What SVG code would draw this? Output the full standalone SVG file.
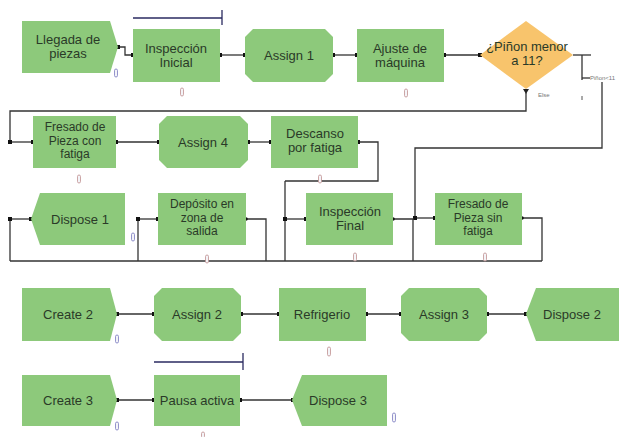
<svg xmlns="http://www.w3.org/2000/svg" width="619" height="437" viewBox="0 0 619 437">
<defs>
<style>
.n{fill:#8dc97b;}
.d{fill:#f8c46c;}
.t{font-family:"Liberation Sans",Arial,sans-serif;font-size:13px;fill:#2a3a28;text-anchor:middle;}
.t3{font-size:12px;}
.s{font-family:"Liberation Sans",Arial,sans-serif;font-size:6px;fill:#777;}
.c{fill:none;stroke:#333;stroke-width:1.3;marker-start:url(#dot);marker-end:url(#dot);}
.w{fill:none;stroke:#333;stroke-width:1.3;}
.m{fill:#f4f4f8;stroke-width:0.8;}
.mb{stroke:#7a7ac0;}
.mp{stroke:#c09090;}
</style>
<marker id="dot" viewBox="0 0 4 4" refX="2" refY="2" markerWidth="4" markerHeight="4" markerUnits="userSpaceOnUse"><rect width="4" height="4" fill="#111"/></marker>
</defs>
<rect width="619" height="437" fill="#fff"/>

<g id="connectors">
<polyline class="c" points="118,47 125,47 125,55 133,55"/>
<line class="c" x1="220" y1="55" x2="245" y2="55"/>
<line class="c" x1="333" y1="55" x2="357" y2="55"/>
<line class="c" x1="444" y1="55" x2="480" y2="55"/>
<polyline class="w" points="573,55 591,55"/>
<polyline class="w" points="582,55 582,80"/>
<line class="w" x1="582" y1="78" x2="590" y2="78"/>
<text class="s" x="590" y="80">Piñon&lt;11</text>
<line x1="582" y1="96" x2="582" y2="100" stroke="#555" stroke-width="1"/>
<polyline class="w" points="602,82 602,148 415,148 415,218"/>
<line class="c" x1="415" y1="218" x2="435" y2="218"/>
<polygon points="523,89 529,89 526,94" fill="#222"/>
<text class="s" x="538" y="97">Else</text>
<polyline class="w" points="526,92 526,111 10,111 10,142"/>
<line class="c" x1="10" y1="142" x2="33" y2="142"/>
<line class="c" x1="116" y1="142" x2="159" y2="142"/>
<line class="c" x1="248" y1="142" x2="271" y2="142"/>
<polyline class="c" points="358,142 378,142 378,181 285,181" style="marker-end:none"/>
<polyline class="w" points="285,181 285,261"/>
<line class="c" x1="285" y1="219" x2="306" y2="219"/>
<polyline class="w" points="393,219 413,219 413,261"/>
<circle cx="393" cy="219" r="1.8" fill="#111"/>
<polyline class="w" points="522,218 542,218 542,261"/>
<circle cx="522" cy="218" r="1.8" fill="#111"/>
<line class="w" x1="10" y1="261" x2="542" y2="261"/>
<polyline class="w" points="10,261 10,219"/>
<line class="c" x1="10" y1="219" x2="31" y2="219"/>
<polyline class="w" points="138,261 138,219"/>
<line class="c" x1="138" y1="219" x2="158" y2="219"/>
<polyline class="w" points="246,219 266,219 266,261"/>
<circle cx="246" cy="219" r="1.8" fill="#111"/>
<line class="c" x1="117" y1="314" x2="154" y2="314"/>
<line class="c" x1="241" y1="314" x2="279" y2="314"/>
<line class="c" x1="366" y1="314" x2="401" y2="314"/>
<line class="c" x1="487" y1="314" x2="526" y2="314"/>
<line class="c" x1="117" y1="400" x2="154" y2="400"/>
<line class="c" x1="240" y1="400" x2="293" y2="400"/>
<g stroke="#2a2a60" stroke-width="1.3">
<line x1="133" y1="18" x2="222" y2="18"/>
<line x1="222" y1="10" x2="222" y2="25"/>
<line x1="154" y1="362" x2="243" y2="362"/>
<line x1="243" y1="353" x2="243" y2="370"/>
</g>
</g>

<g id="llegada">
<polygon class="n" points="22,21 110,21 118,47 110,73 22,73"/>
<text class="t" x="68" y="44">Llegada de</text>
<text class="t" x="68" y="58">piezas</text>
<rect class="m mb" x="114.5" y="69" width="3" height="8" rx="1.5"/>
</g>
<g id="inspeccion-inicial">
<rect class="n" x="133" y="29" width="87" height="53"/>
<text class="t" x="176" y="53">Inspección</text>
<text class="t" x="176" y="67">Inicial</text>
<rect class="m mp" x="180.5" y="88" width="3" height="8" rx="1.5"/>
</g>
<g id="assign1">
<polygon class="n" points="253,29 325,29 333,37 333,74 325,82 253,82 245,74 245,37"/>
<text class="t" x="289" y="60">Assign 1</text>
</g>
<g id="ajuste">
<rect class="n" x="357" y="29" width="87" height="53"/>
<text class="t" x="400" y="53">Ajuste de</text>
<text class="t" x="400" y="67">máquina</text>
<rect class="m mp" x="404.5" y="89" width="3" height="8" rx="1.5"/>
</g>
<g id="decision">
<polygon class="d" points="526,21 573,55 526,89 480,55"/>
<text class="t" x="527" y="51">¿Piñon menor</text>
<text class="t" x="527" y="65">a 11?</text>
</g>
<g id="fresado-con">
<rect class="n" x="33" y="116" width="83" height="52"/>
<text class="t t3" x="75" y="131">Fresado de</text>
<text class="t t3" x="75" y="144.5">Pieza con</text>
<text class="t t3" x="75" y="158">fatiga</text>
<rect class="m mp" x="77.5" y="175" width="3" height="8" rx="1.5"/>
</g>
<g id="assign4">
<polygon class="n" points="167,116 240,116 248,124 248,160 240,168 167,168 159,160 159,124"/>
<text class="t" x="203" y="147">Assign 4</text>
</g>
<g id="descanso">
<rect class="n" x="271" y="116" width="87" height="52"/>
<text class="t" x="315" y="138">Descanso</text>
<text class="t" x="315" y="152">por fatiga</text>
<rect class="m mp" x="318.5" y="175" width="3" height="8" rx="1.5"/>
</g>
<g id="dispose1">
<polygon class="n" points="31,219 40,193 125,193 125,245 40,245"/>
<text class="t" x="80" y="224">Dispose 1</text>
<rect class="m mb" x="131.5" y="233" width="3" height="8" rx="1.5"/>
</g>
<g id="deposito">
<rect class="n" x="158" y="193" width="88" height="52"/>
<text class="t t3" x="202" y="208">Depósito en</text>
<text class="t t3" x="202" y="221.5">zona de</text>
<text class="t t3" x="202" y="235">salida</text>
<rect class="m mp" x="205.5" y="255" width="3" height="8" rx="1.5"/>
</g>
<g id="inspeccion-final">
<rect class="n" x="306" y="193" width="87" height="52"/>
<text class="t" x="350" y="216">Inspección</text>
<text class="t" x="350" y="230">Final</text>
<rect class="m mp" x="353.5" y="253" width="3" height="8" rx="1.5"/>
</g>
<g id="fresado-sin">
<rect class="n" x="435" y="193" width="87" height="52"/>
<text class="t t3" x="478" y="208">Fresado de</text>
<text class="t t3" x="478" y="221.5">Pieza sin</text>
<text class="t t3" x="478" y="235">fatiga</text>
<rect class="m mp" x="483.5" y="253" width="3" height="8" rx="1.5"/>
</g>
<g id="create2">
<polygon class="n" points="22,288 110,288 117,314 110,341 22,341"/>
<text class="t" x="68" y="319">Create 2</text>
<rect class="m mb" x="115.5" y="335" width="3" height="8" rx="1.5"/>
</g>
<g id="assign2">
<polygon class="n" points="162,288 233,288 241,296 241,333 233,341 162,341 154,333 154,296"/>
<text class="t" x="197" y="319">Assign 2</text>
</g>
<g id="refrigerio">
<rect class="n" x="279" y="288" width="87" height="53"/>
<text class="t" x="322" y="319">Refrigerio</text>
<rect class="m mp" x="327.5" y="347" width="3" height="9" rx="1.5"/>
</g>
<g id="assign3">
<polygon class="n" points="409,288 479,288 487,296 487,333 479,341 409,341 401,333 401,296"/>
<text class="t" x="444" y="319">Assign 3</text>
</g>
<g id="dispose2">
<polygon class="n" points="526,314 536,288 619,288 619,341 536,341"/>
<text class="t" x="572" y="319">Dispose 2</text>
</g>
<g id="create3">
<polygon class="n" points="22,375 110,375 117,400 110,426 22,426"/>
<text class="t" x="68" y="405">Create 3</text>
<rect class="m mb" x="115.5" y="422" width="3" height="8" rx="1.5"/>
</g>
<g id="pausa">
<rect class="n" x="154" y="375" width="86" height="51"/>
<text class="t" x="197" y="405">Pausa activa</text>
<rect class="m mp" x="201.5" y="432" width="3" height="6" rx="1.5"/>
</g>
<g id="dispose3">
<polygon class="n" points="292,400 302,375 387,375 387,426 302,426"/>
<text class="t" x="338" y="405">Dispose 3</text>
<rect class="m mb" x="392.5" y="413" width="3" height="9" rx="1.5"/>
</g>
</svg>
